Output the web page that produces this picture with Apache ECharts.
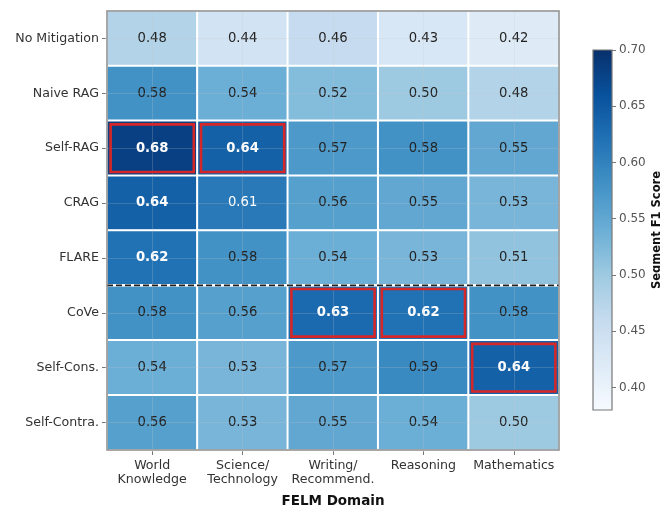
<!DOCTYPE html>
<html>
<head>
<meta charset="utf-8">
<script src="https://cdn.jsdelivr.net/npm/echarts@6/dist/echarts.min.js"></script>
<style>
  html, body { margin: 0; padding: 0; background: #fff; }
  #chart { width: 660px; height: 506px; }
</style>
</head>
<body>
<div id="chart"></div>
<script>
// Mitigation methods (rows, top to bottom) and FELM domains (columns)
const methods = ['No Mitigation', 'Naive RAG', 'Self-RAG', 'CRAG', 'FLARE', 'CoVe', 'Self-Cons.', 'Self-Contra.'];
const domains = ['World\nKnowledge', 'Science/\nTechnology', 'Writing/\nRecommend.', 'Reasoning', 'Mathematics'];

// Segment F1 score per method, one value per domain
const noMitigation = [0.48, 0.44, 0.46, 0.43, 0.42];
const naiveRag     = [0.58, 0.54, 0.52, 0.50, 0.48];
const selfRag      = [0.68, 0.64, 0.57, 0.58, 0.55];
const crag         = [0.64, 0.61, 0.56, 0.55, 0.53];
const flare        = [0.62, 0.58, 0.54, 0.53, 0.51];
const cove         = [0.58, 0.56, 0.63, 0.62, 0.58];
const selfCons     = [0.54, 0.53, 0.57, 0.59, 0.64];
const selfContra   = [0.56, 0.53, 0.55, 0.54, 0.50];
const scores = [noMitigation, naiveRag, selfRag, crag, flare, cove, selfCons, selfContra];

// Retrieval-based methods sit above the dashed divider
const lastRetrievalMethod = 'FLARE';

// Colour scale range and colour-bar ticks
const scaleMin = 0.38;
const scaleMax = 0.70;
const colorbarTicks = [0.40, 0.45, 0.50, 0.55, 0.60, 0.65, 0.70];

// matplotlib "Blues" colormap stops
const blues = ['#f7fbff', '#deebf7', '#c6dbef', '#9ecae1', '#6baed6', '#4292c6', '#2171b5', '#08519c', '#08306b'];

const FONT = 'DejaVu Sans';

// Heatmap cells with per-cell label styling
const cells = [];
scores.forEach((row, r) => {
  row.forEach((v, c) => {
    cells.push({
      value: [c, r, v],
      label: {
        color: v > 0.60 ? '#ffffff' : '#222222',
        fontWeight: v >= 0.62 ? 'bold' : 'normal'
      }
    });
  });
});

// Best method per domain gets a red outline
const bestCells = domains.map((d, c) => {
  let best = 0;
  scores.forEach((row, r) => { if (row[c] > scores[best][c]) best = r; });
  return [c, best];
});

const gradientStops = blues.map((col, i) => ({ offset: i / (blues.length - 1), color: col }));

const chart = echarts.init(document.getElementById('chart'), null, { renderer: 'canvas' });

chart.setOption({
  animation: false,
  textStyle: { fontFamily: FONT },
  grid: [
    { left: 107, top: 11, width: 452, height: 439, containLabel: false, outerBoundsMode: 'none' },
    { left: 593, top: 50, width: 19, height: 360, containLabel: false, outerBoundsMode: 'none' }
  ],
  xAxis: [
    {
      gridIndex: 0,
      type: 'category',
      data: domains,
      position: 'bottom',
      axisLine: { show: false },
      axisTick: { show: true, alignWithLabel: true, length: 5, lineStyle: { color: '#777', width: 1 } },
      axisLabel: { interval: 0, fontSize: 12.6, color: '#333', lineHeight: 14.5, margin: 8, fontFamily: FONT },
      splitLine: { show: false },
      name: 'FELM Domain',
      nameLocation: 'middle',
      nameGap: 44,
      nameTextStyle: { fontSize: 13.5, fontWeight: 'bold', color: '#111', fontFamily: FONT }
    },
    {
      gridIndex: 1,
      type: 'category',
      data: ['bar'],
      show: false
    }
  ],
  yAxis: [
    {
      gridIndex: 0,
      type: 'category',
      data: methods,
      inverse: true,
      axisLine: { show: false },
      axisTick: { show: true, alignWithLabel: true, length: 5, lineStyle: { color: '#777', width: 1 } },
      axisLabel: { interval: 0, fontSize: 12.6, color: '#333', margin: 8, fontFamily: FONT },
      splitLine: { show: false }
    },
    {
      gridIndex: 1,
      type: 'value',
      min: scaleMin,
      max: scaleMax,
      position: 'right',
      axisLine: { show: false },
      axisTick: { show: true, length: 4, customValues: colorbarTicks, lineStyle: { color: '#777' } },
      axisLabel: {
        show: true, fontSize: 12, color: '#555', margin: 7, fontFamily: FONT,
        customValues: colorbarTicks,
        formatter: v => v.toFixed(2)
      },
      splitLine: { show: false },
      name: 'Segment F1 Score',
      nameLocation: 'middle',
      nameRotate: 90,
      nameGap: 39,
      nameTextStyle: { fontSize: 11.5, fontWeight: 'bold', color: '#111', fontFamily: FONT }
    }
  ],
  visualMap: {
    show: false,
    type: 'continuous',
    seriesIndex: 0,
    dimension: 2,
    min: scaleMin,
    max: scaleMax,
    inRange: { color: blues }
  },
  series: [
    {
      type: 'heatmap',
      xAxisIndex: 0,
      yAxisIndex: 0,
      data: cells,
      itemStyle: { borderColor: '#ffffff', borderWidth: 2 },
      label: {
        show: true,
        fontSize: 13.2,
        fontFamily: FONT,
        formatter: p => p.value[2].toFixed(2)
      },
      emphasis: { disabled: true },
      markLine: {
        silent: true,
        symbol: 'none',
        label: { show: false },
        lineStyle: { color: 'rgba(200,200,200,0.22)', width: 1, type: 'solid' },
        data: domains.map(d => ({ xAxis: d })).concat(methods.map(m => ({ yAxis: m })))
      }
    },
    {
      // red outlines on the best method of each domain
      type: 'custom',
      xAxisIndex: 0,
      yAxisIndex: 0,
      silent: true,
      z: 5,
      data: bestCells,
      renderItem: (params, api) => {
        const p = api.coord([api.value(0), api.value(1)]);
        const s = api.size([1, 1]);
        const inset = 3.6;
        return {
          type: 'rect',
          shape: { x: p[0] - s[0] / 2 + inset, y: p[1] - s[1] / 2 + inset, width: s[0] - 2 * inset, height: s[1] - 2 * inset },
          style: { fill: 'none', stroke: '#d62728', lineWidth: 2.6 }
        };
      }
    },
    {
      // dashed divider below the retrieval-based methods, plus the plot frame
      type: 'custom',
      xAxisIndex: 0,
      yAxisIndex: 0,
      silent: true,
      z: 6,
      data: [[0, methods.indexOf(lastRetrievalMethod)]],
      renderItem: (params, api) => {
        const cs = params.coordSys;
        const p = api.coord([api.value(0), api.value(1)]);
        const s = api.size([1, 1]);
        const yLine = p[1] + s[1] / 2;
        return {
          type: 'group',
          children: [
            {
              type: 'line',
              shape: { x1: cs.x, y1: yLine, x2: cs.x + cs.width, y2: yLine },
              style: { stroke: '#ffffff', lineWidth: 2.2 }
            },
            {
              type: 'line',
              shape: { x1: cs.x, y1: yLine, x2: cs.x + cs.width, y2: yLine },
              style: { stroke: '#222', lineWidth: 1.8, lineDash: [6, 3] }
            },
            {
              type: 'rect',
              shape: { x: cs.x, y: cs.y, width: cs.width, height: cs.height },
              style: { fill: 'none', stroke: '#8c8c8c', lineWidth: 1.5 }
            }
          ]
        };
      }
    },
    {
      // colour bar
      type: 'custom',
      xAxisIndex: 1,
      yAxisIndex: 1,
      silent: true,
      data: [[0, scaleMin, scaleMax]],
      renderItem: (params, api) => {
        const top = api.coord([api.value(0), api.value(2)]);
        const bottom = api.coord([api.value(0), api.value(1)]);
        const w = api.size([1, 0])[0];
        return {
          type: 'rect',
          shape: { x: top[0] - w / 2, y: top[1], width: w, height: bottom[1] - top[1] },
          style: {
            fill: new echarts.graphic.LinearGradient(0, 1, 0, 0, gradientStops),
            stroke: '#777',
            lineWidth: 1.2
          }
        };
      }
    }
  ]
});
</script>
</body>
</html>
